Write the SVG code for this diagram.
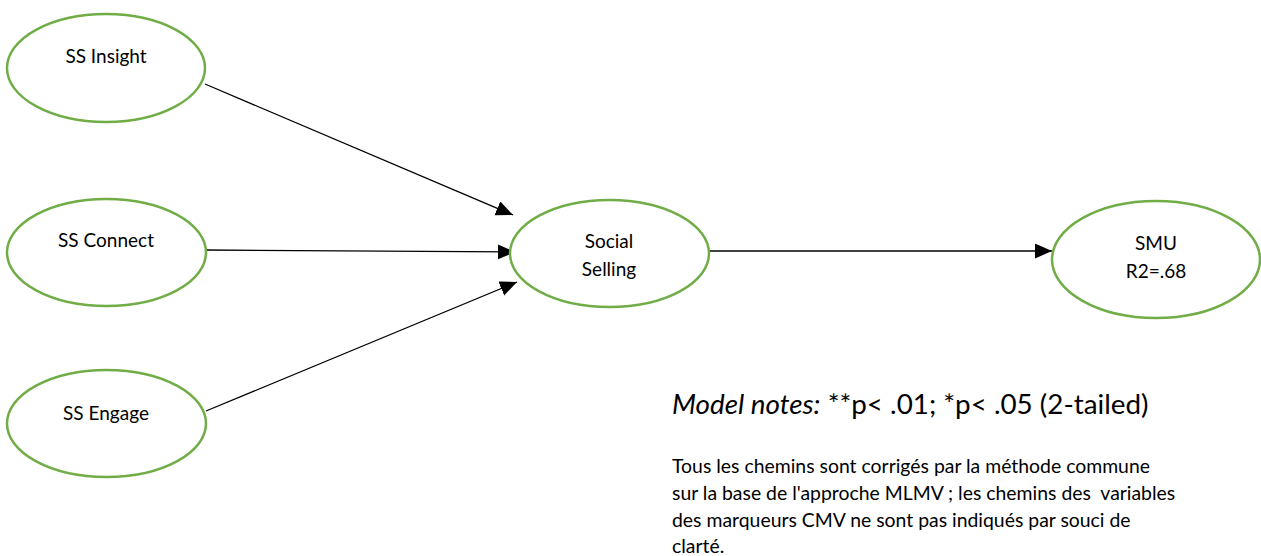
<svg xmlns="http://www.w3.org/2000/svg" width="1261" height="556" viewBox="0 0 1261 556">
<style>
.node{fill:#fff;stroke:#70AD47;stroke-width:2.5}
.lbl{font-family:Lato,"Open Sans","Liberation Sans",sans-serif;font-size:19px;fill:#000;text-anchor:middle}
.edge{stroke:#000;stroke-width:1.3;fill:none;marker-end:url(#arr)}
.note{font-family:Lato,"Open Sans","Liberation Sans",sans-serif;fill:#000}
</style>
<defs>
<marker id="arr" markerUnits="userSpaceOnUse" markerWidth="18" markerHeight="16" refX="17" refY="7.5" orient="auto">
<path d="M0,0 L17,7.5 L0,15 z" fill="#000"/>
</marker>
</defs>
<rect width="1261" height="556" fill="#fff"/>
<g id="connectors">
<line class="edge" x1="205" y1="84" x2="513" y2="215"/>
<line class="edge" x1="206" y1="250" x2="515" y2="252"/>
<line class="edge" x1="206" y1="411" x2="517" y2="282"/>
<line class="edge" x1="709" y1="251" x2="1052" y2="251"/>
</g>
<g id="ss-insight">
<ellipse class="node" cx="106" cy="68" rx="99" ry="54"/>
<text class="lbl" x="106" y="63">SS Insight</text>
</g>
<g id="ss-connect">
<ellipse class="node" cx="106.5" cy="252.5" rx="99.5" ry="53.5"/>
<text class="lbl" x="106" y="247">SS Connect</text>
</g>
<g id="ss-engage">
<ellipse class="node" cx="106.5" cy="423.5" rx="99.5" ry="53.5"/>
<text class="lbl" x="106" y="420">SS Engage</text>
</g>
<g id="social-selling">
<ellipse class="node" cx="609.5" cy="253.5" rx="99.5" ry="53.5"/>
<text class="lbl" x="609" y="248">Social</text>
<text class="lbl" x="609" y="276">Selling</text>
</g>
<g id="smu">
<ellipse class="node" cx="1156" cy="259.5" rx="104" ry="58.5"/>
<text class="lbl" x="1156" y="250">SMU</text>
<text class="lbl" x="1156" y="278">R2=.68</text>
</g>
<g id="notes">
<text class="note" x="672" y="414" font-size="27.8"><tspan font-style="italic">Model notes:</tspan> **p&lt; .01; *p&lt; .05 (2-tailed)</text>
<text class="note" font-size="19.4" xml:space="preserve"><tspan x="672" y="473">Tous les chemins sont corrigés par la méthode commune</tspan><tspan x="672" y="500">sur la base de l'approche MLMV ; les chemins des  variables</tspan><tspan x="672" y="527">des marqueurs CMV ne sont pas indiqués par souci de</tspan><tspan x="672" y="553">clarté.</tspan></text>
</g>
</svg>
